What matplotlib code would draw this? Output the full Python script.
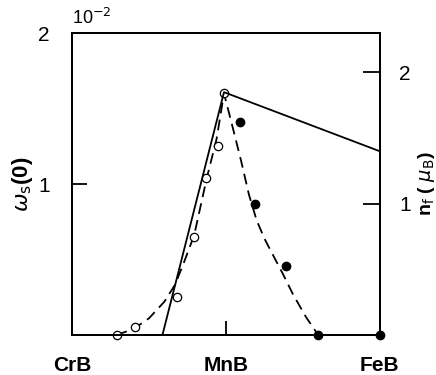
import numpy as np
import matplotlib
matplotlib.use('Agg')
import matplotlib.pyplot as plt

plt.rcParams['font.family'] = ['Liberation Sans Narrow', 'Liberation Sans', 'DejaVu Sans']

# composition axis: CrB = 0, MnB = 0.5, FeB = 1
comp_labels = ['CrB', 'MnB', 'FeB']
comp_pos = [0.0, 0.5, 1.0]

# omega_s(0) in units of 1e-2, open circles (Cr side)
open_x = [0.145, 0.205, 0.342, 0.397, 0.437, 0.475, 0.494]
open_y = [0.0, 0.05, 0.25, 0.65, 1.04, 1.25, 1.60]

# filled circles (Fe side)
fill_x = [0.545, 0.595, 0.697, 0.80, 1.0]
fill_y = [1.41, 0.87, 0.46, 0.0, 0.0]

# dashed guide curve
dash_x = [0.145, 0.20, 0.25, 0.30, 0.334, 0.36, 0.397, 0.437, 0.47, 0.494,
          0.518, 0.55, 0.575, 0.60, 0.625, 0.653, 0.684, 0.718, 0.76, 0.80]
dash_y = [0.0, 0.04, 0.11, 0.22, 0.33, 0.46, 0.66, 1.03, 1.30, 1.60,
          1.41, 1.15, 0.93, 0.76, 0.64, 0.53, 0.41, 0.27, 0.12, 0.0]

# n_f (mu_B), solid line, right axis
nf_x = [0.294, 0.494, 1.0]
nf_y = [0.0, 1.85, 1.40]

fig = plt.figure(figsize=(4.36, 3.75), dpi=100)
ax = fig.add_axes([0.165, 0.1067, 0.706, 0.805])
ax2 = ax.twinx()

ax.plot(dash_x, dash_y, '--', color='black', lw=1.3, dashes=(6, 3.5), zorder=2)
ax.plot(open_x, open_y, 'o', ms=6, mfc='white', mec='black', mew=0.9, zorder=4, clip_on=False)
ax.plot(fill_x, fill_y, 'o', ms=6, color='black', zorder=4, clip_on=False)
ax2.plot(nf_x, nf_y, '-', color='black', lw=1.3)

ax.set_xlim(0, 1)
ax.set_ylim(0, 2)
ax2.set_ylim(0, 2.3)

ax.set_xticks(comp_pos)
ax.set_xticklabels(comp_labels, fontsize=15, fontweight='bold')
ax.tick_params(axis='x', direction='in', length=10, width=1.3, pad=15)
ax.set_yticks([1, 2])
ax.set_yticklabels(['1', '2'], fontsize=15)
ax.tick_params(axis='y', direction='in', length=11, width=1.3, pad=16)
ax2.set_yticks([1, 2])
ax2.set_yticklabels(['1', '2'], fontsize=15)
ax2.tick_params(axis='y', direction='in', length=12, width=1.3, pad=14)

for a in (ax, ax2):
    for s in a.spines.values():
        s.set_linewidth(1.4)

ax.set_ylabel(r'$\omega_{\rm s}$(0)', fontsize=16, fontweight='bold', labelpad=2)
ax2.set_ylabel(r'n$_{\rm f}$ ( $\mu_{\rm B}$)', fontsize=14, fontweight='bold', labelpad=4)
fig.text(0.165, 0.935, r'10$^{-2}$', fontsize=13)

fig.savefig('out.png', dpi=100)
